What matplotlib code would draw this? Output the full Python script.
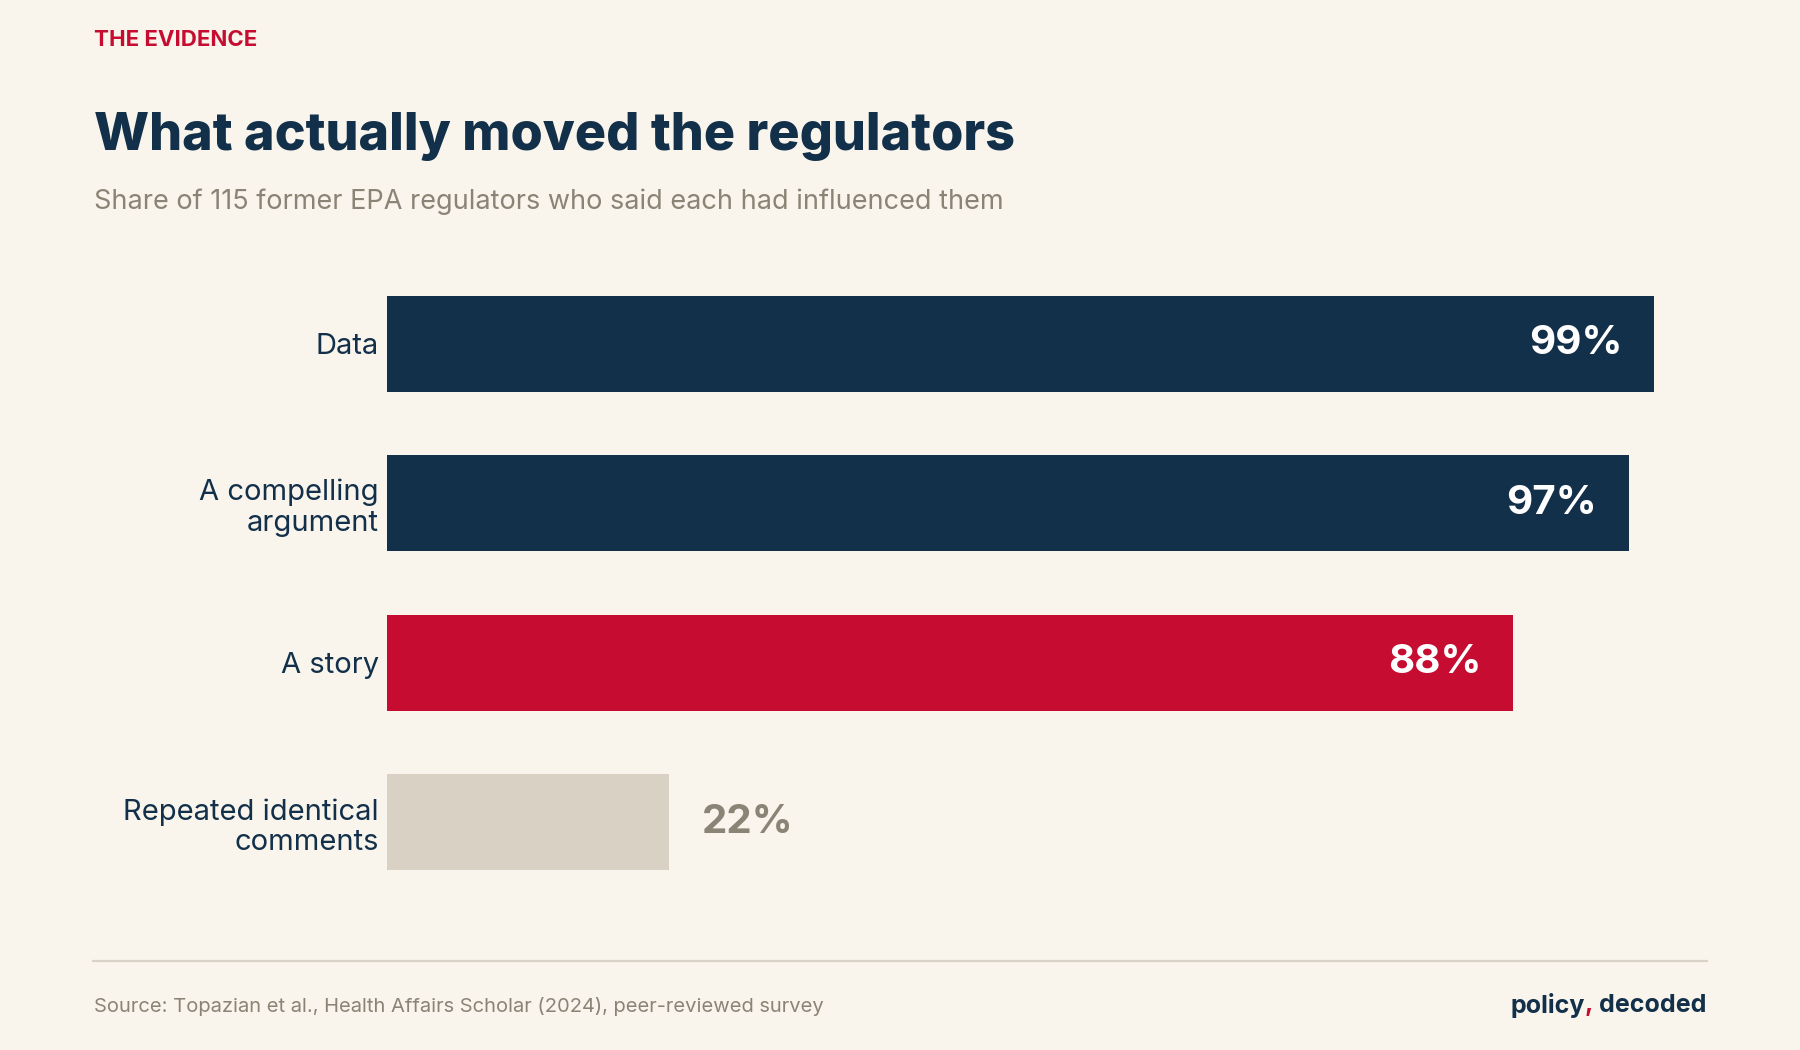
import matplotlib
matplotlib.use("Agg")
import matplotlib.pyplot as plt
from matplotlib.lines import Line2D

categories = ["Data", "A compelling\nargument", "A story", "Repeated identical\ncomments"]
values = [99, 97, 88, 22]
value_labels = ["99%", "97%", "88%", "22%"]

BG = "#F9F5EC"
NAVY = "#13304A"
RED = "#C60C30"
LIGHT = "#D8D1C4"
GRAY = "#8A8476"
bar_colors = [NAVY, NAVY, RED, LIGHT]

FONT = ["Inter", "DejaVu Sans"]
plt.rcParams["font.family"] = FONT

W, H = 1800, 1050
fig = plt.figure(figsize=(W / 100, H / 100), dpi=100, facecolor=BG)

def fx(px):
    return px / W

def fy(py):
    return 1 - py / H

# axes: x 0..100 maps 387..1667 px; rows centred at 344..822 px
top, bottom = 264, 902
ax = fig.add_axes([fx(387), fy(bottom), fx(1667) - fx(387), (bottom - top) / H])
ax.set_facecolor(BG)
ypos = list(range(len(categories)))
ax.barh(ypos, values, height=0.6, color=bar_colors, edgecolor="none")
ax.set_xlim(0, 100)
ax.set_ylim(len(categories) - 0.5, -0.5)
for s in ax.spines.values():
    s.set_visible(False)
ax.set_xticks([])
ax.set_yticks(ypos)
ax.set_yticklabels(categories, fontsize=21, color=NAVY, linespacing=1.15)
ax.tick_params(axis="y", length=0, pad=6)
for lab in ax.get_yticklabels():
    lab.set_horizontalalignment("right")

for i, (v, lab) in enumerate(zip(values, value_labels)):
    if v > 50:
        ax.annotate(lab, xy=(v, i), xytext=(-32, 0), textcoords="offset pixels",
                    ha="right", va="center", fontsize=29, fontweight="bold", color="white")
    else:
        ax.annotate(lab, xy=(v, i), xytext=(33, 0), textcoords="offset pixels",
                    ha="left", va="center", fontsize=29, fontweight="bold", color=GRAY)

# header texts
fig.text(fx(94), fy(40), "THE EVIDENCE", fontsize=16, fontweight="bold", color=RED,
         ha="left", va="center")
fig.text(fx(94), fy(137), "What actually moved the regulators", fontsize=37.5,
         fontweight="heavy", color=NAVY, ha="left", va="center")
fig.text(fx(94), fy(202), "Share of 115 former EPA regulators who said each had influenced them",
         fontsize=19.5, color=GRAY, ha="left", va="center")

# footer
fig.add_artist(Line2D([fx(93), fx(1707)], [fy(961), fy(961)], color="#D8D3C6", lw=1.6,
                      transform=fig.transFigure))
fig.text(fx(94), fy(1006), "Source: Topazian et al., Health Affairs Scholar (2024), peer-reviewed survey",
         fontsize=14.5, color=GRAY, ha="left", va="center")
t1 = fig.text(fx(1707), fy(1005), "decoded", fontsize=18, fontweight="bold", color=NAVY,
              ha="right", va="center")
fig.canvas.draw()
bb = t1.get_window_extent()
t2 = fig.text(bb.x0 / W - fx(7), fy(1005), ",", fontsize=18, fontweight="bold", color=RED,
              ha="right", va="center")
fig.canvas.draw()
bb2 = t2.get_window_extent()
fig.text(bb2.x0 / W + fx(1), fy(1005), "policy", fontsize=18, fontweight="bold", color=NAVY,
         ha="right", va="center")

fig.savefig("out.png", dpi=100, facecolor=BG)
